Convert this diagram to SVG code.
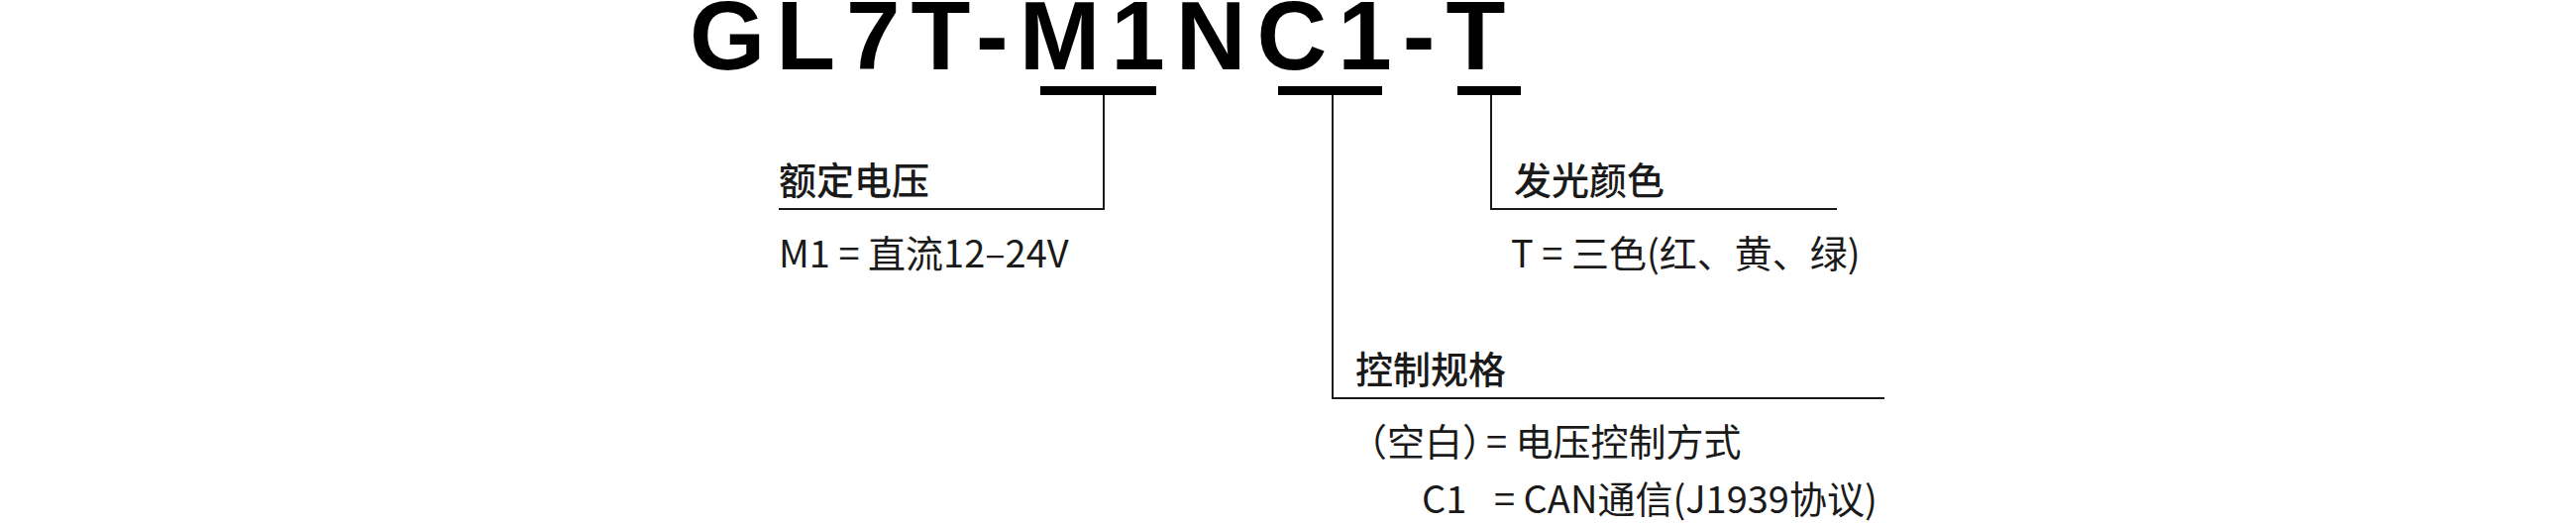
<svg xmlns="http://www.w3.org/2000/svg" width="2600" height="530" viewBox="0 0 2600 530">
<style>
.t{font-family:"Noto Sans CJK SC","Noto Sans",sans-serif;font-size:38px;fill:#1a1a1a}
.h{font-weight:500}
.ln{stroke:#1a1a1a;stroke-width:2;fill:none}
.bar{fill:#000}
</style>
<rect width="2600" height="530" fill="#fff"/>
<g id="title"><text x="696" y="70" font-family="Liberation Sans, Arial, sans-serif" font-weight="bold" font-size="98" letter-spacing="11" fill="#000">GL7T-M1NC1-T</text></g>
<g id="connectors">
<rect class="bar" x="1050" y="87" width="117" height="9"/>
<rect class="bar" x="1290" y="87" width="105" height="9"/>
<rect class="bar" x="1471" y="87" width="64" height="9"/>
<polyline class="ln" points="1114,96 1114,211 786,211"/>
<polyline class="ln" points="1345,96 1345,402 1902,402"/>
<polyline class="ln" points="1505,96 1505,211 1854,211"/>
</g>
<g id="voltage">
<text class="t h" x="786" y="196">额定电压</text>
<text class="t" x="786" y="270">M1 = 直流12–24V</text>
</g>
<g id="color">
<text class="t h" x="1528" y="196">发光颜色</text>
<text class="t" x="1525" y="270">T = 三色(红、黄、绿)</text>
</g>
<g id="control">
<text class="t h" x="1368" y="387">控制规格</text>
<text class="t" x="1362" y="460">（空白）</text>
<text class="t" x="1500" y="460">= 电压控制方式</text>
<text class="t" x="1435" y="518">C1</text>
<text class="t" x="1508" y="518">= CAN通信(J1939协议)</text>
</g>
</svg>
